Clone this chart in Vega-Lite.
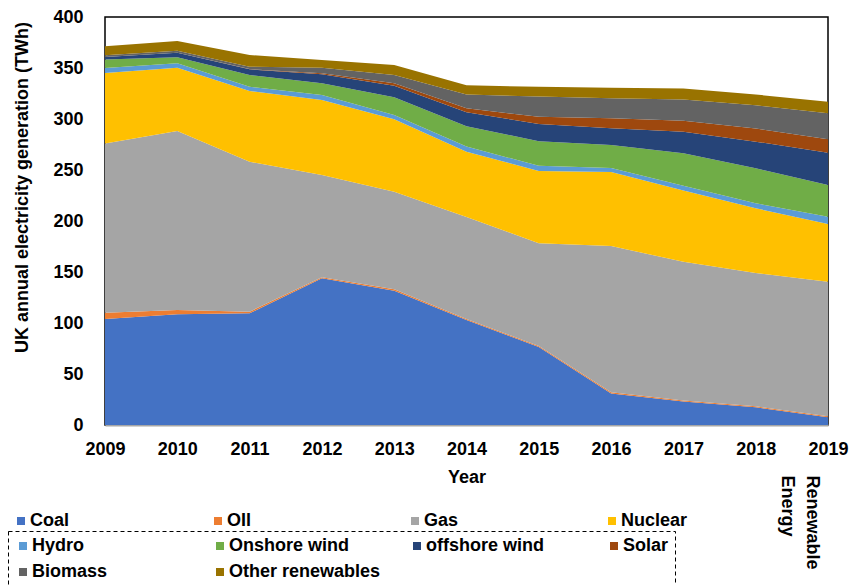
{
  "$schema": "https://vega.github.io/schema/vega-lite/v6.json",
  "width": 723,
  "height": 408,
  "autosize": "none",
  "padding": {"left": 105, "top": 17, "right": 25, "bottom": 160},
  "background": "white",
  "config": {"view": {"stroke": "#000", "strokeWidth": 1.5}, "font": "Liberation Sans"},
  "datasets": {
    "gen": [
      {"year": 2009, "source": "Coal", "value": 104}, {"year": 2009, "source": "OIl", "value": 6}, {"year": 2009, "source": "Gas", "value": 166}, {"year": 2009, "source": "Nuclear", "value": 69.2}, {"year": 2009, "source": "Hydro", "value": 4.9}, {"year": 2009, "source": "Onshore wind", "value": 8.2}, {"year": 2009, "source": "offshore wind", "value": 2.5}, {"year": 2009, "source": "Solar", "value": 0}, {"year": 2009, "source": "Biomass", "value": 1.7}, {"year": 2009, "source": "Other renewables", "value": 8.9},
      {"year": 2010, "source": "Coal", "value": 108.5}, {"year": 2010, "source": "OIl", "value": 4.2}, {"year": 2010, "source": "Gas", "value": 175.5}, {"year": 2010, "source": "Nuclear", "value": 62.1}, {"year": 2010, "source": "Hydro", "value": 4.3}, {"year": 2010, "source": "Onshore wind", "value": 5.9}, {"year": 2010, "source": "offshore wind", "value": 4.5}, {"year": 2010, "source": "Solar", "value": 0}, {"year": 2010, "source": "Biomass", "value": 2}, {"year": 2010, "source": "Other renewables", "value": 9.5},
      {"year": 2011, "source": "Coal", "value": 109.5}, {"year": 2011, "source": "OIl", "value": 1.6}, {"year": 2011, "source": "Gas", "value": 147}, {"year": 2011, "source": "Nuclear", "value": 69.4}, {"year": 2011, "source": "Hydro", "value": 4.2}, {"year": 2011, "source": "Onshore wind", "value": 11.4}, {"year": 2011, "source": "offshore wind", "value": 5.6}, {"year": 2011, "source": "Solar", "value": 0.2}, {"year": 2011, "source": "Biomass", "value": 2.4}, {"year": 2011, "source": "Other renewables", "value": 11.4},
      {"year": 2012, "source": "Coal", "value": 143.8}, {"year": 2012, "source": "OIl", "value": 1}, {"year": 2012, "source": "Gas", "value": 100.3}, {"year": 2012, "source": "Nuclear", "value": 73.5}, {"year": 2012, "source": "Hydro", "value": 4.9}, {"year": 2012, "source": "Onshore wind", "value": 11.5}, {"year": 2012, "source": "offshore wind", "value": 8.8}, {"year": 2012, "source": "Solar", "value": 1}, {"year": 2012, "source": "Biomass", "value": 5.5}, {"year": 2012, "source": "Other renewables", "value": 7.5},
      {"year": 2013, "source": "Coal", "value": 131.7}, {"year": 2013, "source": "OIl", "value": 1.3}, {"year": 2013, "source": "Gas", "value": 95.7}, {"year": 2013, "source": "Nuclear", "value": 71}, {"year": 2013, "source": "Hydro", "value": 4.2}, {"year": 2013, "source": "Onshore wind", "value": 17.4}, {"year": 2013, "source": "offshore wind", "value": 11.4}, {"year": 2013, "source": "Solar", "value": 2.3}, {"year": 2013, "source": "Biomass", "value": 8.1}, {"year": 2013, "source": "Other renewables", "value": 9.8},
      {"year": 2014, "source": "Coal", "value": 103}, {"year": 2014, "source": "OIl", "value": 1}, {"year": 2014, "source": "Gas", "value": 100}, {"year": 2014, "source": "Nuclear", "value": 64}, {"year": 2014, "source": "Hydro", "value": 5}, {"year": 2014, "source": "Onshore wind", "value": 20}, {"year": 2014, "source": "offshore wind", "value": 13.5}, {"year": 2014, "source": "Solar", "value": 4}, {"year": 2014, "source": "Biomass", "value": 13.5}, {"year": 2014, "source": "Other renewables", "value": 9},
      {"year": 2015, "source": "Coal", "value": 76.5}, {"year": 2015, "source": "OIl", "value": 1}, {"year": 2015, "source": "Gas", "value": 100.6}, {"year": 2015, "source": "Nuclear", "value": 71}, {"year": 2015, "source": "Hydro", "value": 5}, {"year": 2015, "source": "Onshore wind", "value": 24}, {"year": 2015, "source": "offshore wind", "value": 17}, {"year": 2015, "source": "Solar", "value": 7}, {"year": 2015, "source": "Biomass", "value": 20}, {"year": 2015, "source": "Other renewables", "value": 9.5},
      {"year": 2016, "source": "Coal", "value": 31}, {"year": 2016, "source": "OIl", "value": 1}, {"year": 2016, "source": "Gas", "value": 143.5}, {"year": 2016, "source": "Nuclear", "value": 72.5}, {"year": 2016, "source": "Hydro", "value": 4}, {"year": 2016, "source": "Onshore wind", "value": 22.5}, {"year": 2016, "source": "offshore wind", "value": 16.4}, {"year": 2016, "source": "Solar", "value": 9.8}, {"year": 2016, "source": "Biomass", "value": 19.6}, {"year": 2016, "source": "Other renewables", "value": 10.4},
      {"year": 2017, "source": "Coal", "value": 23}, {"year": 2017, "source": "OIl", "value": 1}, {"year": 2017, "source": "Gas", "value": 136}, {"year": 2017, "source": "Nuclear", "value": 70}, {"year": 2017, "source": "Hydro", "value": 4.5}, {"year": 2017, "source": "Onshore wind", "value": 31.8}, {"year": 2017, "source": "offshore wind", "value": 21.1}, {"year": 2017, "source": "Solar", "value": 10.8}, {"year": 2017, "source": "Biomass", "value": 21}, {"year": 2017, "source": "Other renewables", "value": 10.7},
      {"year": 2018, "source": "Coal", "value": 17.3}, {"year": 2018, "source": "OIl", "value": 1}, {"year": 2018, "source": "Gas", "value": 130.7}, {"year": 2018, "source": "Nuclear", "value": 63.5}, {"year": 2018, "source": "Hydro", "value": 4.9}, {"year": 2018, "source": "Onshore wind", "value": 34.3}, {"year": 2018, "source": "offshore wind", "value": 26.1}, {"year": 2018, "source": "Solar", "value": 12.9}, {"year": 2018, "source": "Biomass", "value": 22.8}, {"year": 2018, "source": "Other renewables", "value": 10.5},
      {"year": 2019, "source": "Coal", "value": 7.5}, {"year": 2019, "source": "OIl", "value": 1}, {"year": 2019, "source": "Gas", "value": 132}, {"year": 2019, "source": "Nuclear", "value": 56.5}, {"year": 2019, "source": "Hydro", "value": 7.2}, {"year": 2019, "source": "Onshore wind", "value": 31.1}, {"year": 2019, "source": "offshore wind", "value": 31.7}, {"year": 2019, "source": "Solar", "value": 13.1}, {"year": 2019, "source": "Biomass", "value": 25.5}, {"year": 2019, "source": "Other renewables", "value": 11.4}
    ]
  },
  "data": {"name": "gen"},
  "transform": [
    {"calculate": "indexof(['Coal','OIl','Gas','Nuclear','Hydro','Onshore wind','offshore wind','Solar','Biomass','Other renewables'], datum.source)", "as": "ord"},
    {"stack": "value", "groupby": ["year"], "sort": [{"field": "ord", "order": "ascending"}], "as": ["v0", "v1"]}
  ],
  "encoding": {
    "x": {
      "field": "year", "type": "quantitative",
      "scale": {"domain": [2009, 2019], "nice": false, "zero": false},
      "axis": {
        "values": [2009, 2010, 2011, 2012, 2013, 2014, 2015, 2016, 2017, 2018, 2019],
        "format": "d", "labelFontSize": 18, "labelFontWeight": "bold", "labelColor": "#000",
        "labelPadding": 15, "ticks": false, "labelFlush": false, "labelOverlap": false,
        "domainColor": "#a6a6a6", "domainWidth": 2, "grid": false,
        "title": "Year", "titleFontSize": 18, "titleFontWeight": "bold", "titleColor": "#000",
        "titleY": 52, "titleBaseline": "middle"
      }
    }
  },
  "layer": [
    {
      "transform": [{"filter": "datum.ord < 4"}],
      "mark": {"type": "area", "interpolate": "linear"},
      "encoding": {
        "y": {
          "field": "v1", "type": "quantitative", "scale": {"domain": [0, 400], "nice": false},
          "axis": {
            "orient": "left", "values": [0, 50, 100, 150, 200, 250, 300, 350, 400],
            "title": "UK annual electricity generation (TWh)", "titleFontSize": 18, "titleFontWeight": "bold", "titleColor": "#000",
            "titleAngle": -90, "titleX": -83, "titleY": 170, "titleBaseline": "middle", "titleAlign": "center",
            "labelFontSize": 18, "labelFontWeight": "bold", "labelColor": "#000", "labelPadding": 22,
            "ticks": false, "tickSize": 0, "domain": false, "grid": false
          }
        },
        "y2": {"field": "v0"},
        "color": {
          "field": "source", "type": "nominal",
          "scale": {"domain": ["Coal", "OIl", "Gas", "Nuclear"], "range": ["#4472C4", "#ED7D31", "#A5A5A5", "#FFC000"]},
          "legend": {
            "orient": "none", "legendX": -98, "legendY": 490, "direction": "horizontal", "columns": 4,
            "gridAlign": "all", "columnPadding": 112, "padding": 5, "title": null,
            "symbolType": "square", "symbolSize": 64, "symbolStrokeWidth": 0,
            "labelFontSize": 18, "labelFontWeight": "bold", "labelColor": "#000", "labelOffset": 0
          }
        }
      }
    },
    {
      "transform": [{"filter": "datum.ord >= 4"}],
      "mark": {"type": "area", "interpolate": "linear"},
      "encoding": {
        "y": {
          "field": "v1", "type": "quantitative", "scale": {"domain": [0, 400], "nice": false},
          "axis": {
            "orient": "right", "title": ["Renewable", "Energy"], "labels": false, "ticks": false, "domain": false, "grid": false,
            "titleAngle": 90, "titleX": -8, "titleY": 458, "titleAlign": "left", "titleBaseline": "top",
            "titleFontSize": 18, "titleFontWeight": "bold", "titleColor": "#000", "titleLineHeight": 25
          }
        },
        "y2": {"field": "v0"},
        "color": {
          "field": "source", "type": "nominal",
          "scale": {"domain": ["Hydro", "Onshore wind", "offshore wind", "Solar", "Biomass", "Other renewables"], "range": ["#5B9BD5", "#70AD47", "#264478", "#9E480E", "#636363", "#997300"]},
          "legend": {
            "orient": "none", "legendX": -97, "legendY": 514, "direction": "horizontal", "columns": 4,
            "gridAlign": "all", "columnPadding": 27, "rowPadding": 8, "padding": 6, "title": null,
            "strokeColor": "#000",
            "symbolType": "square", "symbolSize": 64, "symbolStrokeWidth": 0,
            "labelFontSize": 18, "labelFontWeight": "bold", "labelColor": "#000", "labelOffset": 0,
            "encode": {"legend": {"update": {"stroke": {"value": "#000"}, "strokeDash": {"value": [4, 3]}, "strokeWidth": {"value": 1}, "width": {"value": 727}}}}
          }
        }
      }
    }
  ],
  "resolve": {"scale": {"color": "independent"}, "axis": {"y": "independent"}}
}
